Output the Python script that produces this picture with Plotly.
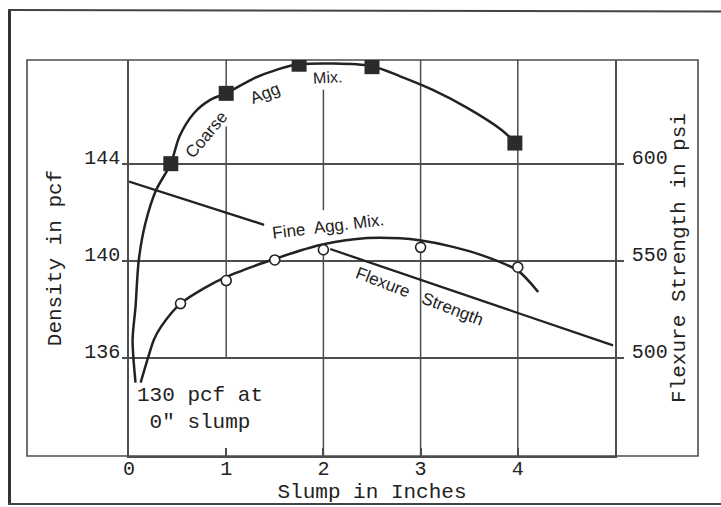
import plotly.graph_objects as go

# ---------------- data ----------------
# Coarse aggregate mix: density (pcf) vs slump (in)
coarse_pts_x = [0.43, 1.0, 1.75, 2.5, 3.97]
coarse_pts_y = [144.0, 146.9, 148.1, 148.0, 144.85]
coarse_curve_x = [0.067, 0.037, 0.067, 0.10, 0.168, 0.28, 0.43, 0.52, 0.67, 0.84,
                  1.0, 1.29, 1.525, 1.75, 2.49, 2.79, 3.12, 3.48, 3.83, 3.98]
coarse_curve_y = [134.97, 136.73, 138.09, 140.0, 141.53, 142.92, 144.0, 145.13, 146.09, 146.64,
                  146.9, 147.53, 147.88, 148.1, 148.03, 147.6, 147.05, 146.3, 145.4, 144.85]

# Fine aggregate mix: density (pcf) vs slump (in)
fine_pts_x = [0.53, 1.0, 1.5, 2.0, 3.0, 4.0]
fine_pts_y = [138.23, 139.18, 140.03, 140.45, 140.55, 139.73]
fine_curve_x = [0.12, 0.20, 0.255, 0.33, 0.53, 0.77, 1.0, 1.29, 1.52, 1.79, 2.0,
                2.45, 2.79, 2.99, 3.3, 3.65, 4.0, 4.21]
fine_curve_y = [134.97, 136.05, 136.73, 137.28, 138.23, 138.86, 139.33, 139.78, 140.1, 140.45, 140.68,
                140.93, 140.92, 140.84, 140.6, 140.2, 139.59, 138.71]

# Flexure strength (psi) vs slump (in) - straight line, broken where the label sits
flex_x = [0.0, 1.39, None, 2.07, 4.98]
flex_psi = [590.8, 568.5, None, 556.0, 506.3]

x_ticks = [0, 1, 2, 3, 4]
density_ticks = [136, 140, 144]
psi_ticks = [500, 550, 600]

# ---------------- styling / layout constants ----------------
INK = "#222222"
GRID = "#4d4d4d"
MONO = "Liberation Mono, Courier New, monospace"
SANS = "Liberation Sans, Arial, sans-serif"

X_RANGE = [0, 5]
Y_RANGE = [131.945, 148.275]
# right axis aligned so that 136 pcf <-> 500 psi and 144 pcf <-> 600 psi
Y2_RANGE = [500 + (v - 136) * 12.5 for v in Y_RANGE]

ML, MR, MT, MB = 129, 106, 60, 51
W, H = 721, 507
PW, PH = W - ML - MR, H - MT - MB


def px_to_paper_x(px):
    return (px - ML) / PW


def px_to_paper_y(py):
    return (H - MB - py) / PH


fig = go.Figure()

fig.add_trace(go.Scatter(x=coarse_curve_x, y=coarse_curve_y, mode="lines",
                         line=dict(color=INK, width=2.5, shape="spline", smoothing=0.8),
                         hoverinfo="skip", name="Coarse Agg. Mix."))
fig.add_trace(go.Scatter(x=coarse_pts_x, y=coarse_pts_y, mode="markers",
                         marker=dict(symbol="square", size=15, color="#2b2b2b"),
                         name="Coarse Agg. Mix. data"))
fig.add_trace(go.Scatter(x=fine_curve_x, y=fine_curve_y, mode="lines",
                         line=dict(color=INK, width=2.5, shape="spline", smoothing=0.8),
                         hoverinfo="skip", name="Fine Agg. Mix."))
fig.add_trace(go.Scatter(x=fine_pts_x, y=fine_pts_y, mode="markers",
                         marker=dict(symbol="circle", size=10, color="white",
                                     line=dict(color=INK, width=1.6)),
                         name="Fine Agg. Mix. data"))
fig.add_trace(go.Scatter(x=flex_x, y=flex_psi, mode="lines", yaxis="y2",
                         line=dict(color=INK, width=2.3), connectgaps=False,
                         name="Flexure Strength"))

# vertical grid lines (some are interrupted by labels / markers in the original)
Y_BOT, Y_TOP = Y_RANGE
grid_segments = [
    (1, Y_TOP, 146.9), (1, 145.53, 136.0),
    (2, 147.05, 142.08), (2, 140.45, Y_BOT),
    (3, Y_BOT, Y_TOP), (4, Y_BOT, Y_TOP),
]
shapes = []
for gx, ya, yb in grid_segments:
    shapes.append(dict(type="line", xref="x", yref="y", x0=gx, x1=gx, y0=ya, y1=yb,
                       line=dict(color=GRID, width=1.5), layer="below"))
# inner frame
shapes.append(dict(type="rect", xref="paper", yref="paper",
                   x0=px_to_paper_x(27), x1=px_to_paper_x(698), y0=0, y1=1,
                   line=dict(color=GRID, width=1.6), layer="below"))
# outer border of the figure
shapes.append(dict(type="line", xref="paper", yref="paper",
                   x0=px_to_paper_x(9.5), x1=px_to_paper_x(9.5),
                   y0=px_to_paper_y(9), y1=px_to_paper_y(505),
                   line=dict(color="#333333", width=3)))
shapes.append(dict(type="line", xref="paper", yref="paper",
                   x0=px_to_paper_x(8), x1=px_to_paper_x(725),
                   y0=px_to_paper_y(10), y1=px_to_paper_y(11.5),
                   line=dict(color="#444444", width=2)))
shapes.append(dict(type="line", xref="paper", yref="paper",
                   x0=px_to_paper_x(8), x1=px_to_paper_x(725),
                   y0=px_to_paper_y(504), y1=px_to_paper_y(504),
                   line=dict(color="#444444", width=2)))

lab_font = dict(family=SANS, size=17, color=INK)
annotations = [
    dict(x=0.80, y=145.2, text="Coarse", textangle=-50, showarrow=False, font=lab_font),
    dict(x=1.40, y=146.89, text="Agg", textangle=-22, showarrow=False, font=lab_font),
    dict(x=2.04, y=147.57, text="Mix.", textangle=-3, showarrow=False,
         font=dict(family=SANS, size=16, color=INK)),
    dict(x=2.05, y=141.42, text="Fine  Agg. Mix.", textangle=-7, showarrow=False,
         font=dict(family=SANS, size=17, color=INK)),
    dict(x=2.99, y=138.53, text="Flexure   Strength", textangle=21, showarrow=False,
         font=dict(family=SANS, size=17, color=INK)),
    dict(x=0.73, y=133.88, text="130 pcf at<br>0\" slump", showarrow=False, align="center",
         font=dict(family=MONO, size=21, color=INK)),
]

fig.update_layout(
    width=W, height=H,
    margin=dict(l=ML, r=MR, t=MT, b=MB, autoexpand=False),
    paper_bgcolor="white", plot_bgcolor="white",
    showlegend=False,
    font=dict(family=MONO, size=20, color=INK),
    shapes=shapes,
    annotations=annotations,
    xaxis=dict(range=X_RANGE, tickvals=x_ticks, ticks="inside", ticklen=8, tickwidth=1.5,
               tickcolor=GRID, showgrid=False, zeroline=False, showline=True,
               linecolor=GRID, linewidth=1.6, tickfont=dict(family=MONO, size=20, color=INK),
               ticklabelstandoff=-7,
               title=dict(text="Slump in Inches", font=dict(family=MONO, size=21, color=INK),
                          standoff=3)),
    yaxis=dict(range=Y_RANGE, tickvals=density_ticks, ticks="outside", ticklen=5, tickwidth=1.5,
               tickcolor=GRID, showgrid=True, gridcolor=GRID, gridwidth=1.5, zeroline=False,
               showline=True, linecolor=GRID, linewidth=1.6,
               tickfont=dict(family=MONO, size=20, color=INK),
               ticklabelshift=-7, ticklabelstandoff=-2,
               title=dict(text="Density in pcf", font=dict(family=MONO, size=21, color=INK),
                          standoff=17)),
    yaxis2=dict(range=Y2_RANGE, overlaying="y", side="right", tickvals=psi_ticks,
                ticks="outside", ticklen=7, tickwidth=1.5, tickcolor=GRID,
                showgrid=False, zeroline=False, showline=True, linecolor=GRID, linewidth=1.6,
                tickfont=dict(family=MONO, size=20, color=INK),
                ticklabelshift=-7, ticklabelstandoff=4,
                title=dict(text="Flexure Strength in psi",
                           font=dict(family=MONO, size=21, color=INK), standoff=2)),
)

fig.write_html("out.html", config={"displayModeBar": False},
               post_script="document.body.style.margin='0px';")
